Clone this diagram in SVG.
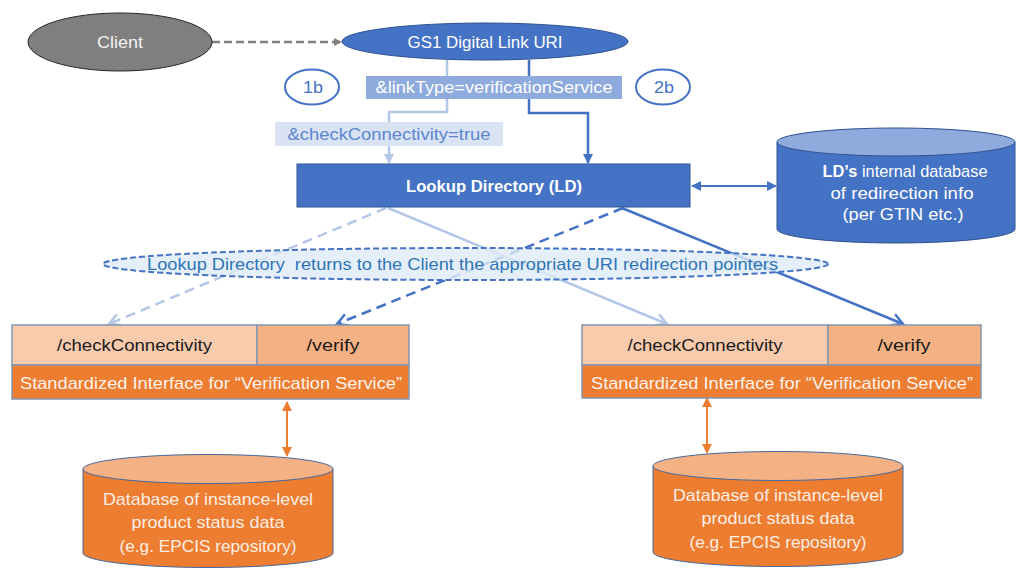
<svg xmlns="http://www.w3.org/2000/svg" width="1018" height="570" viewBox="0 0 1018 570">
<style>
text{font-family:"Liberation Sans","Open Sans",Arial,sans-serif;font-size:17px}
.w{fill:#ffffff}
.c{text-anchor:middle}
.blk{fill:#1a1a1a}
.bl{fill:#4472c4}
.dk{fill:#4472c4;stroke:#2f528f;stroke-width:1}
.ifc{stroke:#8497b0;stroke-width:1.5}
.odb{fill:#ed7d31;stroke:#44699e;stroke-width:1}
.otop{fill:#f4b183;stroke:#44699e;stroke-width:1}
.light{stroke:#b4c7e7;stroke-width:2.5;fill:none}
.dark{stroke:#4472c4;stroke-width:2.5;fill:none}
.dash{stroke-dasharray:10 6}
</style>
<defs>
<marker id="aGray" markerWidth="8" markerHeight="8" refX="7" refY="4" orient="auto" markerUnits="userSpaceOnUse"><path d="M0,0 L8,4 L0,8 Z" fill="#7f7f7f"/></marker>
<marker id="aLight" markerWidth="10" markerHeight="10" refX="9" refY="5" orient="auto" markerUnits="userSpaceOnUse"><path d="M0,0 L10,5 L0,10 Z" fill="#b4c7e7"/></marker>
<marker id="aDark" markerWidth="10" markerHeight="10" refX="9" refY="5" orient="auto" markerUnits="userSpaceOnUse"><path d="M0,0 L10,5 L0,10 Z" fill="#4472c4"/></marker>
<marker id="aDarkS" markerWidth="10" markerHeight="10" refX="1" refY="5" orient="auto" markerUnits="userSpaceOnUse"><path d="M10,0 L0,5 L10,10 Z" fill="#4472c4"/></marker>
<marker id="oLight" markerWidth="14" markerHeight="14" refX="12" refY="7" orient="auto" markerUnits="userSpaceOnUse"><path d="M1,1 L12,7 L1,13" fill="none" stroke="#b4c7e7" stroke-width="2.5"/></marker>
<marker id="oDark" markerWidth="14" markerHeight="14" refX="12" refY="7" orient="auto" markerUnits="userSpaceOnUse"><path d="M1,1 L12,7 L1,13" fill="none" stroke="#4472c4" stroke-width="2.5"/></marker>
<marker id="aOr" markerWidth="10" markerHeight="10" refX="9" refY="5" orient="auto" markerUnits="userSpaceOnUse"><path d="M0,0 L10,5 L0,10 Z" fill="#ed7d31"/></marker>
<marker id="aOrS" markerWidth="10" markerHeight="10" refX="1" refY="5" orient="auto" markerUnits="userSpaceOnUse"><path d="M10,0 L0,5 L10,10 Z" fill="#ed7d31"/></marker>
</defs>

<g id="connectors">
<line x1="212" y1="42" x2="341" y2="42" stroke="#7f7f7f" stroke-width="2.5" stroke-dasharray="8 4" marker-end="url(#aGray)"/>
<polyline class="light" points="447,60 447,112 389,112 389,163" marker-end="url(#aLight)"/>
<polyline class="dark" points="529,60 529,113 588,113 588,163" marker-end="url(#aDark)"/>
<line x1="692" y1="186" x2="776" y2="186" stroke="#4472c4" stroke-width="2" marker-start="url(#aDarkS)" marker-end="url(#aDark)"/>
<line class="light dash" x1="386" y1="208" x2="109" y2="324" marker-end="url(#oLight)"/>
<line class="dark dash" x1="623" y1="208" x2="337" y2="324" marker-end="url(#oDark)"/>
<line class="light" x1="388" y1="208" x2="667" y2="324" marker-end="url(#oLight)"/>
<line class="dark" x1="622" y1="208" x2="903" y2="324" marker-end="url(#oDark)"/>
<line x1="287" y1="402" x2="287" y2="456" stroke="#ed7d31" stroke-width="2" marker-start="url(#aOrS)" marker-end="url(#aOr)"/>
<line x1="707" y1="398" x2="707" y2="453" stroke="#ed7d31" stroke-width="2" marker-start="url(#aOrS)" marker-end="url(#aOr)"/>
</g>

<g id="client">
<ellipse cx="120" cy="42" rx="92" ry="29" fill="#7f7f7f" stroke="#262626" stroke-width="1"/>
<text class="c" x="120" y="48" fill="#f2f2f2" font-size="18" textLength="46" lengthAdjust="spacingAndGlyphs">Client</text>
</g>

<g id="gs1uri">
<ellipse cx="485" cy="41.5" rx="143" ry="18.5" class="dk"/>
<text class="c w" x="485" y="48" font-size="18" textLength="155" lengthAdjust="spacingAndGlyphs">GS1 Digital Link URI</text>
</g>

<g id="step1b">
<ellipse cx="312" cy="87" rx="27" ry="17.5" fill="#ffffff" stroke="#4472c4" stroke-width="2"/>
<text class="c bl" x="313" y="93" textLength="20" lengthAdjust="spacingAndGlyphs">1b</text>
</g>

<g id="step2b">
<ellipse cx="663" cy="87" rx="27" ry="17.5" fill="#ffffff" stroke="#4472c4" stroke-width="2"/>
<text class="c bl" x="664" y="93" textLength="20" lengthAdjust="spacingAndGlyphs">2b</text>
</g>

<g id="linktype">
<rect x="366" y="76" width="256" height="23" fill="#8faadc"/>
<text class="c w" x="494" y="93" textLength="237" lengthAdjust="spacingAndGlyphs">&amp;linkType=verificationService</text>
</g>

<g id="checkparam">
<rect x="275" y="122" width="228" height="24" fill="#dae3f3"/>
<text class="c" x="389" y="140" fill="#5b86d0" textLength="203" lengthAdjust="spacingAndGlyphs">&amp;checkConnectivity=true</text>
</g>

<g id="lookup">
<rect x="297" y="164" width="393" height="43" class="dk"/>
<text class="c w" x="494" y="192" font-weight="bold" font-size="16" textLength="176" lengthAdjust="spacingAndGlyphs">Lookup Directory (LD)</text>
</g>

<g id="lddb">
<path d="M777,142 L777,229 A119,14 0 0 0 1015,229 L1015,142 Z" fill="#4472c4" stroke="#2f528f" stroke-width="1"/>
<ellipse cx="896" cy="142" rx="119" ry="14" fill="#8faadc" stroke="#2f528f" stroke-width="1"/>
<text class="c w" x="905" y="177" textLength="165" lengthAdjust="spacingAndGlyphs"><tspan font-weight="bold">LD’s</tspan> internal database</text>
<text class="c w" x="902" y="199" textLength="143" lengthAdjust="spacingAndGlyphs">of redirection info</text>
<text class="c w" x="903" y="220" textLength="121" lengthAdjust="spacingAndGlyphs">(per GTIN etc.)</text>
</g>

<g id="returns">
<ellipse cx="465.5" cy="264" rx="362.5" ry="16" fill="#deebf7" fill-opacity="0.8" stroke="#4472c4" stroke-width="2" stroke-dasharray="6 3"/>
<text x="147" y="270" fill="#2e75b6" xml:space="preserve" style="white-space:pre" textLength="631" lengthAdjust="spacingAndGlyphs">Lookup Directory  returns to the Client the appropriate URI redirection pointers</text>
</g>

<g id="iface-left">
<rect x="12" y="325" width="245" height="40" fill="#f8cbad" class="ifc"/>
<rect x="257" y="325" width="152" height="40" fill="#f4b183" class="ifc"/>
<rect x="12" y="365" width="397" height="34" fill="#ed7d31" class="ifc"/>
<text class="c blk" x="134.5" y="351" textLength="155" lengthAdjust="spacingAndGlyphs">/checkConnectivity</text>
<text class="c blk" x="333" y="351" textLength="53" lengthAdjust="spacingAndGlyphs">/verify</text>
<text class="c" x="211" y="389" fill="#fdf2ea" textLength="382" lengthAdjust="spacingAndGlyphs">Standardized Interface for “Verification Service”</text>
</g>

<g id="iface-right">
<rect x="582" y="325" width="246" height="40" fill="#f8cbad" class="ifc"/>
<rect x="828" y="325" width="153" height="40" fill="#f4b183" class="ifc"/>
<rect x="582" y="365" width="399" height="33" fill="#ed7d31" class="ifc"/>
<text class="c blk" x="705" y="351" textLength="155" lengthAdjust="spacingAndGlyphs">/checkConnectivity</text>
<text class="c blk" x="904" y="351" textLength="53" lengthAdjust="spacingAndGlyphs">/verify</text>
<text class="c" x="782" y="389" fill="#fdf2ea" textLength="382" lengthAdjust="spacingAndGlyphs">Standardized Interface for “Verification Service”</text>
</g>

<g id="db-left">
<path d="M83,469 L83,553 A125,14.5 0 0 0 333,553 L333,469 Z" class="odb"/>
<ellipse cx="208" cy="469" rx="125" ry="14.5" class="otop"/>
<text class="c" x="208" y="505" fill="#fdeee3" textLength="210" lengthAdjust="spacingAndGlyphs">Database of instance-level</text>
<text class="c" x="208" y="528" fill="#fdeee3" textLength="153" lengthAdjust="spacingAndGlyphs">product status data</text>
<text class="c" x="208" y="552" fill="#fdeee3" textLength="177" lengthAdjust="spacingAndGlyphs">(e.g. EPCIS repository)</text>
</g>

<g id="db-right">
<path d="M653,466 L653,552 A125,14.5 0 0 0 903,552 L903,466 Z" class="odb"/>
<ellipse cx="778" cy="466" rx="125" ry="14.5" class="otop"/>
<text class="c" x="778" y="501" fill="#fdeee3" textLength="210" lengthAdjust="spacingAndGlyphs">Database of instance-level</text>
<text class="c" x="778" y="524" fill="#fdeee3" textLength="153" lengthAdjust="spacingAndGlyphs">product status data</text>
<text class="c" x="778" y="548" fill="#fdeee3" textLength="177" lengthAdjust="spacingAndGlyphs">(e.g. EPCIS repository)</text>
</g>
</svg>
